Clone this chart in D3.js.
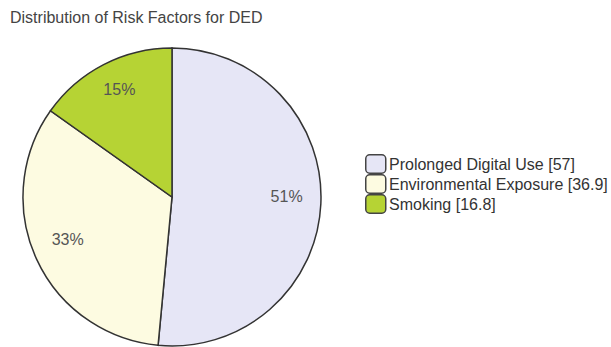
<!DOCTYPE html>
<html>
<head>
<meta charset="utf-8">
<script src="https://cdn.jsdelivr.net/npm/d3@7"></script>
<style>
  body { margin: 0; background: #fff; }
  text { font-family: "Liberation Sans", Arial, sans-serif; }
</style>
</head>
<body>
<script>
var categories = ["Prolonged Digital Use", "Environmental Exposure", "Smoking"];
var values = [57, 36.9, 16.8];
var colors = ["#e6e6f6", "#fdfbe1", "#b6d334"];

var width = 611, height = 347;
var cx = 172, cy = 197, radius = 149;

var svg = d3.select("body").append("svg")
    .attr("width", width)
    .attr("height", height);

svg.append("text")
    .attr("x", 10)
    .attr("y", 23)
    .attr("font-size", 16)
    .attr("fill", "#444")
    .text("Distribution of Risk Factors for DED");

var total = d3.sum(values);
var pie = d3.pie().sort(null).value(function(d){ return d; });
var arcs = pie(values);
var arc = d3.arc().innerRadius(0).outerRadius(radius);
var labelArc = d3.arc().innerRadius(radius * 0.77).outerRadius(radius * 0.77);

var g = svg.append("g").attr("transform", "translate(" + cx + "," + cy + ")");

g.selectAll("path")
    .data(arcs)
    .enter().append("path")
    .attr("d", arc)
    .attr("fill", function(d, i){ return colors[i]; })
    .attr("stroke", "#333")
    .attr("stroke-width", 1.5);

g.selectAll("text.pct")
    .data(arcs)
    .enter().append("text")
    .attr("class", "pct")
    .attr("transform", function(d){ return "translate(" + labelArc.centroid(d) + ")"; })
    .attr("text-anchor", "middle")
    .attr("dy", "0")
    .attr("font-size", 16)
    .attr("fill", "#555")
    .text(function(d){ return Math.round(d.value / total * 100) + "%"; });

var legend = svg.append("g").attr("transform", "translate(365,154)");
var rows = legend.selectAll("g")
    .data(categories)
    .enter().append("g")
    .attr("transform", function(d, i){ return "translate(0," + (i * 20) + ")"; });

rows.append("rect")
    .attr("x", 0.75)
    .attr("y", 0.75)
    .attr("width", 20)
    .attr("height", 18.5)
    .attr("rx", 4)
    .attr("fill", function(d, i){ return colors[i]; })
    .attr("stroke", "#444")
    .attr("stroke-width", 1.5);

rows.append("text")
    .attr("x", 24)
    .attr("y", 10)
    .attr("dy", "0.35em")
    .attr("font-size", 16)
    .attr("fill", "#333")
    .text(function(d, i){ return d + " [" + values[i] + "]"; });
</script>
</body>
</html>
